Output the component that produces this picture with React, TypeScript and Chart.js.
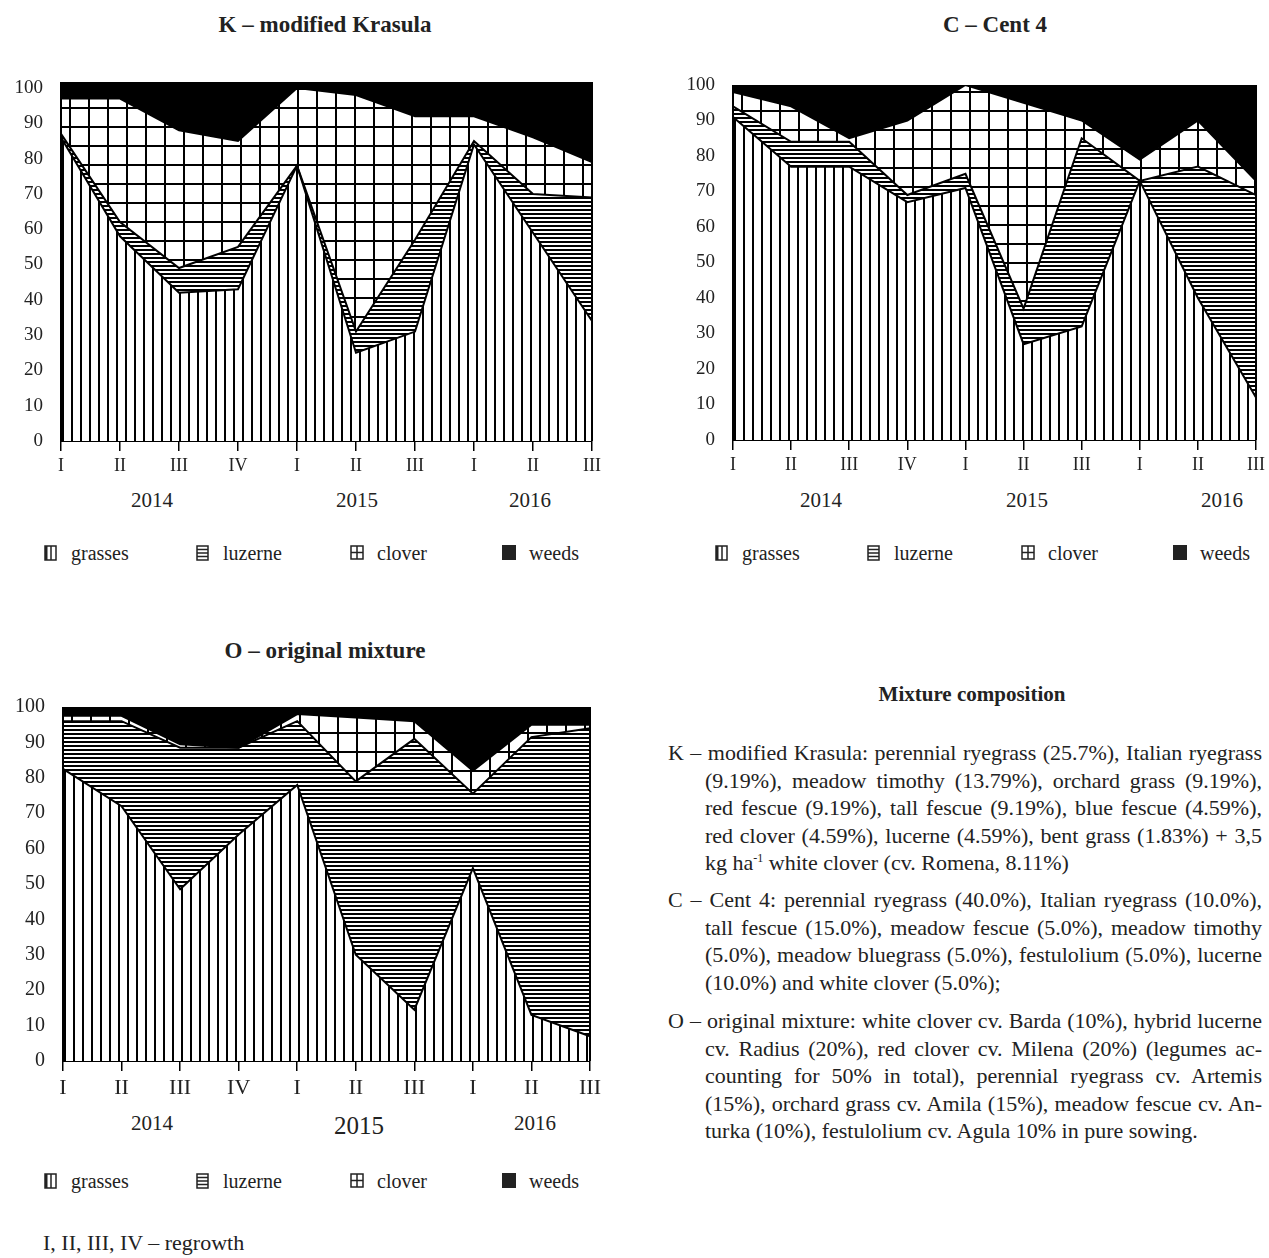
import React, { useEffect, useRef } from "react";
import { Chart, registerables } from "chart.js";

Chart.register(...registerables);

const FONT = '"Liberation Serif", "Times New Roman", serif';

// ---- data ----
const regrowthLabels = ["I", "II", "III", "IV", "I", "II", "III", "I", "II", "III"];
const yearLabels = ["2014", "2015", "2016"];
const seriesNames = ["grasses", "luzerne", "clover", "weeds"];

// K – modified Krasula (% share per regrowth)
const kGrasses = [86, 58, 42, 43, 78, 25, 31, 84, 59, 34];
const kLuzerne = [1, 4, 7, 12, 0, 6, 26, 1, 11, 35];
const kClover = [10, 35, 39, 30, 22, 67, 35, 7, 16, 10];
const kWeeds = [3, 3, 12, 15, 0, 2, 8, 8, 14, 21];

// C – Cent 4
const cGrasses = [91, 77, 77, 67, 71, 27, 32, 73, 40, 12];
const cLuzerne = [3, 7, 7, 2, 4, 10, 53, 0, 37, 57];
const cClover = [4, 10, 1, 21, 25, 58, 5, 6, 13, 4];
const cWeeds = [2, 6, 15, 10, 0, 5, 10, 21, 10, 27];

// O – original mixture
const oGrasses = [82.5, 72, 48.5, 64, 78, 30, 14.5, 54.5, 13, 7];
const oLuzerne = [13.5, 24, 40, 24.5, 18, 49, 76.5, 21, 78.5, 87];
const oClover = [1.5, 1.5, 1, 0, 2, 18, 5, 6.5, 3.5, 1];
const oWeeds = [2.5, 2.5, 10.5, 11.5, 2, 3, 4, 18, 5, 5];

const yTicksStep = 10;

// ---- patterns ----
function makePattern(kind: string, offX: number, offY: number): CanvasPattern | string {
  const c = document.createElement("canvas");
  const ctx = c.getContext("2d")!;
  if (kind === "v") {
    c.width = 9; c.height = 9;
    ctx.fillStyle = "#fff"; ctx.fillRect(0, 0, 9, 9);
    ctx.fillStyle = "#000"; ctx.fillRect(0, 0, 2, 9);
  } else if (kind === "h") {
    c.width = 4; c.height = 4;
    ctx.fillStyle = "#fff"; ctx.fillRect(0, 0, 4, 4);
    ctx.fillStyle = "#000"; ctx.fillRect(0, 0, 4, 2);
  } else {
    c.width = 19; c.height = 19;
    ctx.fillStyle = "#fff"; ctx.fillRect(0, 0, 19, 19);
    ctx.fillStyle = "#000"; ctx.fillRect(0, 0, 2, 19); ctx.fillRect(0, 0, 19, 2);
  }
  const p = ctx.createPattern(c, "repeat")!;
  try { p.setTransform(new DOMMatrix().translate(offX, offY)); } catch (e) { /* ignore */ }
  return p;
}

const edgePlugin = {
  id: "edges",
  afterDatasetsDraw(chart: any) {
    const { ctx, chartArea: a } = chart;
    const y100 = chart.scales.y.getPixelForValue(100);
    ctx.save();
    if (y100 > a.top) {
      ctx.fillStyle = "#000";
      ctx.fillRect(a.left, a.top, a.right - a.left, y100 - a.top + 1);
    }
    ctx.strokeStyle = "#000";
    ctx.lineWidth = 2;
    ctx.beginPath();
    ctx.moveTo(a.left, a.bottom); ctx.lineTo(a.left, a.top);
    ctx.moveTo(a.right, a.bottom); ctx.lineTo(a.right, a.top);
    ctx.stroke();
    ctx.restore();
  },
};

type ChartProps = {
  left: number; top: number; width: number; height: number;
  areaLeft: number; areaTop: number; areaBottom: number; padRight: number;
  tickSize: number; ySize: number; yMax: number;
  series: number[][];
};

function StackChart(p: ChartProps) {
  const ref = useRef<HTMLCanvasElement>(null);
  useEffect(() => {
    const canvas = ref.current!;
    const patV = makePattern("v", p.areaLeft + 1, 0);
    const patH = makePattern("h", 0, 1);
    const patG = makePattern("g", p.areaLeft + 8, p.areaTop + 6);
    const fills = [patV, patH, patG, "#000"];
    const chart = new Chart(canvas, {
      type: "line",
      data: {
        labels: regrowthLabels,
        datasets: p.series.map((d, i) => ({
          label: seriesNames[i],
          data: d,
          fill: i === 0 ? "origin" : "-1",
          backgroundColor: fills[i] as any,
          borderColor: "#000",
          borderWidth: 2,
          pointRadius: 0,
          tension: 0,
        })),
      },
      options: {
        animation: false,
        responsive: false,
        layout: { padding: { top: p.areaTop, right: p.padRight, left: 0, bottom: 0 } },
        plugins: {
          legend: { display: false },
          tooltip: { enabled: false },
          filler: { drawTime: "beforeDatasetsDraw" },
        } as any,
        scales: {
          x: {
            type: "category",
            offset: false,
            grid: { drawOnChartArea: false, drawTicks: true, tickLength: 10, color: "#000", lineWidth: 1.5 },
            border: { display: true, color: "#000", width: 2 },
            ticks: { font: { family: FONT, size: p.tickSize }, color: "#222", padding: 4, maxRotation: 0, autoSkip: false },
            afterFit: (s: any) => { s.height = p.height - p.areaBottom; },
          },
          y: {
            stacked: true,
            min: 0,
            max: p.yMax,
            grid: { display: false, drawTicks: false },
            border: { display: false },
            ticks: { stepSize: yTicksStep, includeBounds: false, font: { family: FONT, size: p.ySize }, color: "#222", padding: 18 },
            afterFit: (s: any) => { s.width = p.areaLeft; },
          },
        },
      } as any,
      plugins: [edgePlugin],
    });
    return () => chart.destroy();
  }, []);
  return (
    <canvas
      ref={ref}
      width={p.width}
      height={p.height}
      style={{ position: "absolute", left: p.left, top: p.top, width: p.width, height: p.height }}
    />
  );
}

function T(props: { x: number; y: number; size?: number; bold?: boolean; anchor?: string; children: any }) {
  const tx = props.anchor === "left" ? "0" : "-50%";
  return (
    <div
      style={{
        position: "absolute", left: props.x, top: props.y, transform: `translate(${tx}, -50%)`,
        fontFamily: FONT, fontSize: props.size || 20, fontWeight: props.bold ? "bold" : "normal",
        color: "#222", whiteSpace: "nowrap", lineHeight: 1,
      }}
    >
      {props.children}
    </div>
  );
}

function Icon({ kind }: { kind: number }) {
  if (kind === 0)
    return (
      <svg width="13" height="16" viewBox="0 0 13 16">
        <rect x="1" y="1" width="11" height="14" fill="#fff" stroke="#222" strokeWidth="1.5" />
        <rect x="1" y="1" width="2.5" height="14" fill="#222" />
        <line x1="7" y1="1" x2="7" y2="15" stroke="#222" strokeWidth="1.5" />
      </svg>
    );
  if (kind === 1)
    return (
      <svg width="13" height="16" viewBox="0 0 13 16">
        <rect x="1" y="1" width="11" height="14" fill="#fff" stroke="#222" strokeWidth="1.5" />
        {[4.5, 8, 11.5].map((y) => <line key={y} x1="1" y1={y} x2="12" y2={y} stroke="#222" strokeWidth="1.5" />)}
      </svg>
    );
  if (kind === 2)
    return (
      <svg width="14" height="15" viewBox="0 0 14 15">
        <rect x="1" y="1" width="12" height="13" fill="#fff" stroke="#222" strokeWidth="1.5" />
        <line x1="7" y1="1" x2="7" y2="14" stroke="#222" strokeWidth="1.5" />
        <line x1="1" y1="7.5" x2="13" y2="7.5" stroke="#222" strokeWidth="1.5" />
      </svg>
    );
  return (
    <svg width="14" height="15" viewBox="0 0 14 15">
      <rect x="0" y="0" width="14" height="15" fill="#222" />
    </svg>
  );
}

function Legend({ x0, y }: { x0: number; y: number }) {
  const offs = [0, 152, 306, 458];
  return (
    <>
      {seriesNames.map((n, i) => (
        <React.Fragment key={n}>
          <div style={{ position: "absolute", left: x0 + offs[i], top: y - 8, lineHeight: 0 }}>
            <Icon kind={i} />
          </div>
          <T x={x0 + offs[i] + 27} y={y} anchor="left">{n}</T>
        </React.Fragment>
      ))}
    </>
  );
}

const kPara: any[] = [
  "K – modified Krasula: perennial ryegrass (25.7%), Italian ryegrass",
  "(9.19%), meadow timothy (13.79%), orchard grass (9.19%),",
  "red fescue (9.19%), tall fescue (9.19%), blue fescue (4.59%),",
  "red clover (4.59%), lucerne (4.59%), bent grass (1.83%) + 3,5",
];
const cPara = [
  "C – Cent 4: perennial ryegrass (40.0%), Italian ryegrass (10.0%),",
  "tall fescue (15.0%), meadow fescue (5.0%), meadow timothy",
  "(5.0%), meadow bluegrass (5.0%), festulolium (5.0%), lucerne",
  "(10.0%) and white clover (5.0%);",
];
const oPara = [
  "O – original mixture: white clover cv. Barda (10%), hybrid lucerne",
  "cv. Radius (20%), red clover cv. Milena (20%) (legumes ac-",
  "counting for 50% in total), perennial ryegrass cv. Artemis",
  "(15%), orchard grass cv. Amila (15%), meadow fescue cv. An-",
  "turka (10%), festulolium cv. Agula 10% in pure sowing.",
];

const LH = 27.5;

function Para({ lines, firstCenter }: { lines: any[]; firstCenter: number }) {
  const last = lines.length - 1;
  return (
    <div style={{ position: "absolute", left: 668, top: firstCenter - LH / 2, width: 594, fontFamily: FONT, fontSize: 22, color: "#222", lineHeight: LH + "px" }}>
      {lines.map((l, i) => (
        <div
          key={i}
          style={{
            paddingLeft: i === 0 ? 0 : 37,
            textAlign: "justify",
            textAlignLast: i === last ? "left" : "justify",
            whiteSpace: "nowrap",
            height: LH,
          } as any}
        >
          {l}
        </div>
      ))}
    </div>
  );
}

export default function App() {
  const kLines = [...kPara, <span key="s">kg ha<sup style={{ fontSize: 12, lineHeight: 0, verticalAlign: "8px" }}>-1</sup> white clover (cv. Romena, 8.11%)</span>];
  return (
    <div style={{ position: "absolute", left: 0, top: 0, width: 1269, height: 1258, background: "#fff", overflow: "hidden" }}>
      {/* K */}
      <T x={325} y={24} size={23} bold>K – modified Krasula</T>
      <StackChart left={0} top={40} width={612} height={440} areaLeft={61} areaTop={42} areaBottom={401} padRight={20}
        tickSize={18} ySize={19} yMax={101.7} series={[kGrasses, kLuzerne, kClover, kWeeds]} />
      <T x={152} y={500} size={21}>{yearLabels[0]}</T>
      <T x={357} y={500} size={21}>{yearLabels[1]}</T>
      <T x={530} y={500} size={21}>{yearLabels[2]}</T>
      <Legend x0={44} y={553} />

      {/* C */}
      <T x={995} y={24} size={23} bold>C – Cent 4</T>
      <StackChart left={672} top={40} width={597} height={440} areaLeft={61} areaTop={45} areaBottom={400} padRight={12}
        tickSize={18} ySize={19} yMax={100} series={[cGrasses, cLuzerne, cClover, cWeeds]} />
      <T x={821} y={500} size={21}>{yearLabels[0]}</T>
      <T x={1027} y={500} size={21}>{yearLabels[1]}</T>
      <T x={1222} y={500} size={21}>{yearLabels[2]}</T>
      <Legend x0={715} y={553} />

      {/* O */}
      <T x={325} y={650} size={23} bold>O – original mixture</T>
      <StackChart left={0} top={660} width={610} height={440} areaLeft={63} areaTop={47} areaBottom={401} padRight={20}
        tickSize={22} ySize={20} yMax={100} series={[oGrasses, oLuzerne, oClover, oWeeds]} />
      <T x={152} y={1123} size={21}>{yearLabels[0]}</T>
      <T x={359} y={1125} size={25}>{yearLabels[1]}</T>
      <T x={535} y={1123} size={21}>{yearLabels[2]}</T>
      <Legend x0={44} y={1181} />

      <T x={43} y={1243} size={22} anchor="left">I, II, III, IV – regrowth</T>

      {/* Mixture composition */}
      <T x={972} y={694} size={21} bold>Mixture composition</T>
      <Para firstCenter={753} lines={kLines} />
      <Para firstCenter={900} lines={cPara} />
      <Para firstCenter={1021} lines={oPara} />
    </div>
  );
}
